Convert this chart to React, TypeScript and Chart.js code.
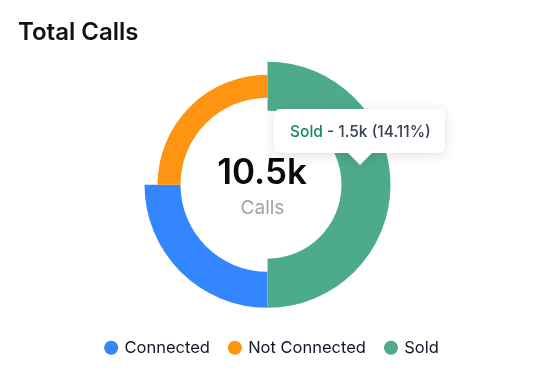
import React, { useEffect, useRef } from "react";
import { Chart, registerables } from "chart.js";

Chart.register(...registerables);

const categories = ["Connected", "Not Connected", "Sold"];
const values = [2.625, 2.625, 5.25]; // thousands of calls, as drawn
const colors = ["#3486FF", "#FF9413", "#4EAB8A"];
const outerFrac = [1, 110 / 123, 1];
const innerFrac = [87 / 123, 87 / 123, 74 / 123];
const totalLabel = "10.5k";
const totalCaption = "Calls";
const tooltipName = "Sold";
const tooltipRest = "\u00a0- 1.5k (14.11%)";

const ringShape = {
  id: "ringShape",
  afterDatasetsUpdate(chart: any) {
    const meta = chart.getDatasetMeta(0);
    const R = meta.controller.outerRadius;
    meta.data.forEach((arc: any, i: number) => {
      arc.outerRadius = R * outerFrac[i];
      arc.innerRadius = R * innerFrac[i];
    });
  },
};

const legendShift = {
  id: "legendShift",
  afterLayout(chart: any) {
    if (chart.legend) {
      chart.legend.left += 5;
      chart.legend.right += 5;
    }
  },
};

const centerText = {
  id: "centerText",
  afterDatasetsDraw(chart: any) {
    const arc = chart.getDatasetMeta(0).data[0];
    if (!arc) return;
    const ctx = chart.ctx;
    ctx.save();
    ctx.textAlign = "center";
    ctx.textBaseline = "middle";
    ctx.fillStyle = "#0b0b0f";
    ctx.font = "600 35px Inter";
    ctx.fillText(totalLabel, arc.x - 5.5, arc.y - 11.5);
    ctx.fillStyle = "#9ca3af";
    ctx.font = "400 19px Inter";
    ctx.fillText(totalCaption, arc.x - 5, arc.y + 23.5);
    ctx.restore();
  },
};

export default function App() {
  const ref = useRef<HTMLCanvasElement | null>(null);
  useEffect(() => {
    if (!ref.current) return;
    const chart = new Chart(ref.current, {
      type: "doughnut",
      data: {
        labels: categories,
        datasets: [
          {
            data: values,
            backgroundColor: colors,
            borderWidth: 0,
            hoverOffset: 0,
          },
        ],
      },
      options: {
        animation: false,
        responsive: true,
        maintainAspectRatio: false,
        events: [],
        rotation: 180,
        radius: 123,
        cutout: "70%",
        layout: { padding: { left: 18, right: 20, top: 0, bottom: 11 } },
        plugins: {
          title: {
            display: true,
            text: "Total Calls",
            align: "start",
            color: "#111111",
            font: { family: "Inter", size: 24, weight: "600" },
            padding: { top: 18.2, bottom: 3 },
          },
          legend: {
            position: "bottom",
            labels: {
              usePointStyle: true,
              pointStyle: "circle",
              boxWidth: 10,
              boxHeight: 10,
              padding: 20,
              color: "#111827",
              font: { family: "Inter", size: 16.5 },
            },
          },
          tooltip: { enabled: false },
        },
      },
      plugins: [ringShape, legendShift, centerText],
    } as any);
    return () => chart.destroy();
  }, []);

  return (
    <div style={{ position: "absolute", left: 0, top: 0, width: 537, height: 377, background: "#fff" }}>
      <canvas ref={ref} />
      <div
        style={{
          position: "absolute",
          left: 274,
          top: 109,
          filter: "drop-shadow(0 2px 6px rgba(0,0,0,0.12))",
        }}
      >
        <div
          style={{
            position: "relative",
            width: 171,
            height: 44,
            boxSizing: "border-box",
            background: "#fff",
            borderRadius: 6,
            paddingLeft: 16,
            display: "flex",
            alignItems: "center",
            fontFamily: "Inter",
            fontSize: 15.5,
            fontWeight: 500,
            color: "#374151",
            whiteSpace: "pre",
          }}
        >
          <span style={{ color: "#0f8a5c" }}>{tooltipName}</span>
          <span>{tooltipRest}</span>
        </div>
        <div
          style={{
            position: "absolute",
            left: 86 - 13,
            top: 43,
            width: 0,
            height: 0,
            borderLeft: "13px solid transparent",
            borderRight: "13px solid transparent",
            borderTop: "13px solid #fff",
          }}
        />
      </div>
    </div>
  );
}
